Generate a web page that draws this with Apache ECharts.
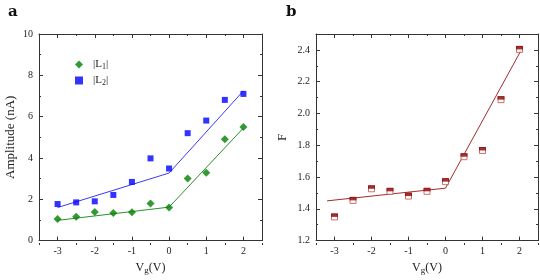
<!DOCTYPE html>
<html><head><meta charset="utf-8">
<script src="https://cdn.jsdelivr.net/npm/echarts@6/dist/echarts.min.js"></script>
<style>html,body{margin:0;padding:0;background:#fff}#c{width:540px;height:280px}</style>
</head><body><div id="c"></div>
<script>
const vg = [-3, -2.5, -2, -1.5, -1, -0.5, 0, 0.5, 1, 1.5, 2];
const L1 = [1.04, 1.15, 1.39, 1.34, 1.37, 1.79, 1.6, 3.0, 3.28, 4.9, 5.5];
const L2 = [1.77, 1.85, 1.9, 2.21, 2.84, 3.98, 3.49, 5.2, 5.81, 6.81, 7.1];
const fitL1 = [[-3, 0.98], [0, 1.62], [2, 5.45]];
const fitL2 = [[-3, 1.6], [0, 3.27], [2, 7.25]];
const F = [1.349, 1.453, 1.526, 1.51, 1.48, 1.51, 1.571, 1.728, 1.767, 2.087, 2.403];
const fitF = [[-3.2, 1.45], [0, 1.53], [2.05, 2.40]];
const xTicks = [-3, -2, -1, 0, 1, 2];
const xMinorTicks = [-3.5, -2.5, -1.5, -0.5, 0.5, 1.5, 2.5];

const FONT = 'Liberation Serif';
const AX = '#333';
const pair = (xs, ys) => xs.map((x, i) => [x, ys[i]]);

function xAx(gi, pos, labels) {
  return {
    type: 'value', gridIndex: gi, position: pos, min: -3.5, max: 2.5,
    axisLine: {show: true, onZero: false, lineStyle: {color: AX, width: 1}},
    axisTick: {show: true, inside: true, length: 4, customValues: xTicks, lineStyle: {color: AX}},
    splitLine: {show: false},
    axisLabel: {show: labels, customValues: xTicks, color: '#222', fontFamily: FONT, fontSize: 10, margin: 6},
    name: labels ? 'V{sub|g}(V)' : '', nameLocation: 'middle', nameGap: 19,
    nameTextStyle: {color: '#222', fontFamily: FONT, fontSize: 12,
      rich: {sub: {fontFamily: FONT, fontSize: 9, verticalAlign: 'bottom', padding: [6, 0, 0, 0], color: '#222'}}}
  };
}
function xMinor(gi, pos) {
  return {
    type: 'value', gridIndex: gi, position: pos, min: -3.5, max: 2.5,
    axisLine: {show: false},
    axisTick: {show: true, inside: true, length: 2, customValues: xMinorTicks, lineStyle: {color: AX}},
    splitLine: {show: false}, axisLabel: {show: false}
  };
}
function yAx(gi, pos, labels, min, max, interval, fmt, name, gap) {
  return {
    type: 'value', gridIndex: gi, position: pos, min, max, interval,
    axisLine: {show: true, onZero: false, lineStyle: {color: AX, width: 1}},
    axisTick: {show: true, inside: true, length: 4, lineStyle: {color: AX}},
    minorTick: {show: true, splitNumber: 2, length: 2, lineStyle: {color: AX}},
    splitLine: {show: false},
    axisLabel: {show: labels, color: '#222', fontFamily: FONT, fontSize: 10, margin: 6, formatter: fmt,
      showMaxLabel: max % interval === 0},
    name: labels ? name : '', nameLocation: 'middle', nameGap: gap,
    nameTextStyle: {color: '#222', fontFamily: FONT, fontSize: 13}
  };
}
function yHidden(gi, pos, min, max) {
  return {type: 'value', gridIndex: gi, position: pos, min, max, show: false};
}

const gridA = {left: 39, top: 34, width: 223, height: 211};
const gridB = {left: 316, top: 34, width: 222, height: 211};

const chart = echarts.init(document.getElementById('c'), null, {renderer: 'canvas'});
chart.setOption({
  animation: false,
  backgroundColor: '#fff',
  textStyle: {fontFamily: FONT},
  grid: [gridA, gridB, Object.assign({}, gridA), Object.assign({}, gridB)],
  xAxis: [
    xAx(0, 'bottom', true), xAx(0, 'top', false), xAx(1, 'bottom', true), xAx(1, 'top', false),
    xMinor(2, 'bottom'), xMinor(2, 'top'), xMinor(3, 'bottom'), xMinor(3, 'top')
  ],
  yAxis: [
    yAx(0, 'left', true, 0, 10, 2, v => String(v), 'Amplitude (nA)', 22),
    yAx(0, 'right', false, 0, 10, 2, v => String(v), '', 0),
    yAx(1, 'left', true, 1.2, 2.5, 0.2, v => v.toFixed(1), 'F', 27),
    yAx(1, 'right', false, 1.2, 2.5, 0.2, v => v.toFixed(1), '', 0),
    yHidden(2, 'left', 0, 10), yHidden(3, 'left', 1.2, 2.5)
  ],
  legend: {
    left: 70, top: 54, orient: 'vertical', itemGap: 4, itemWidth: 8, itemHeight: 8,
    data: ['L1', 'L2'],
    formatter: n => n === 'L1' ? '{g|}|L{sub|1}|' : '{g|}|L{sub|2}|',
    textStyle: {fontFamily: FONT, fontSize: 11, color: '#222',
      rich: {g: {width: 5}, sub: {fontFamily: FONT, fontSize: 8, verticalAlign: 'bottom', padding: [5, 0, 0, 0], color: '#222'}}}
  },
  graphic: [
    {type: 'text', left: 8, top: 5, style: {text: 'a', font: 'bold 15px "DejaVu Serif"', fill: '#111'}},
    {type: 'text', left: 286, top: 5, style: {text: 'b', font: 'bold 15px "DejaVu Serif"', fill: '#111'}}
  ],
  series: [
    {name: 'L1', type: 'scatter', xAxisIndex: 0, yAxisIndex: 0, data: pair(vg, L1),
      symbol: 'diamond', symbolSize: 8, itemStyle: {color: '#008000'}, z: 5},
    {name: 'L2', type: 'scatter', xAxisIndex: 0, yAxisIndex: 0, data: pair(vg, L2),
      symbol: 'rect', symbolSize: 6, itemStyle: {color: '#0000ff'}, z: 5},
    {name: 'fitL1', type: 'line', xAxisIndex: 0, yAxisIndex: 0, data: fitL1, showSymbol: false,
      lineStyle: {color: '#2a922a', width: 1}, z: 3},
    {name: 'fitL2', type: 'line', xAxisIndex: 0, yAxisIndex: 0, data: fitL2, showSymbol: false,
      lineStyle: {color: '#3a3af5', width: 1}, z: 3},
    {name: 'fitF', type: 'line', xAxisIndex: 2, yAxisIndex: 2, data: fitF, showSymbol: false,
      lineStyle: {color: '#a52a2a', width: 1}, z: 3},
    {name: 'F', type: 'scatter', xAxisIndex: 2, yAxisIndex: 2, data: pair(vg, F),
      symbol: 'rect', symbolSize: 6, itemStyle: {color: '#fff', borderColor: '#c05050', borderWidth: 1}, z: 5},
    {name: 'Ftop', type: 'scatter', xAxisIndex: 2, yAxisIndex: 2, data: pair(vg, F),
      symbol: 'rect', symbolSize: [7, 3.5], symbolOffset: [0, -1.75], itemStyle: {color: '#8b0000'}, z: 6}
  ]
});
</script></body></html>
